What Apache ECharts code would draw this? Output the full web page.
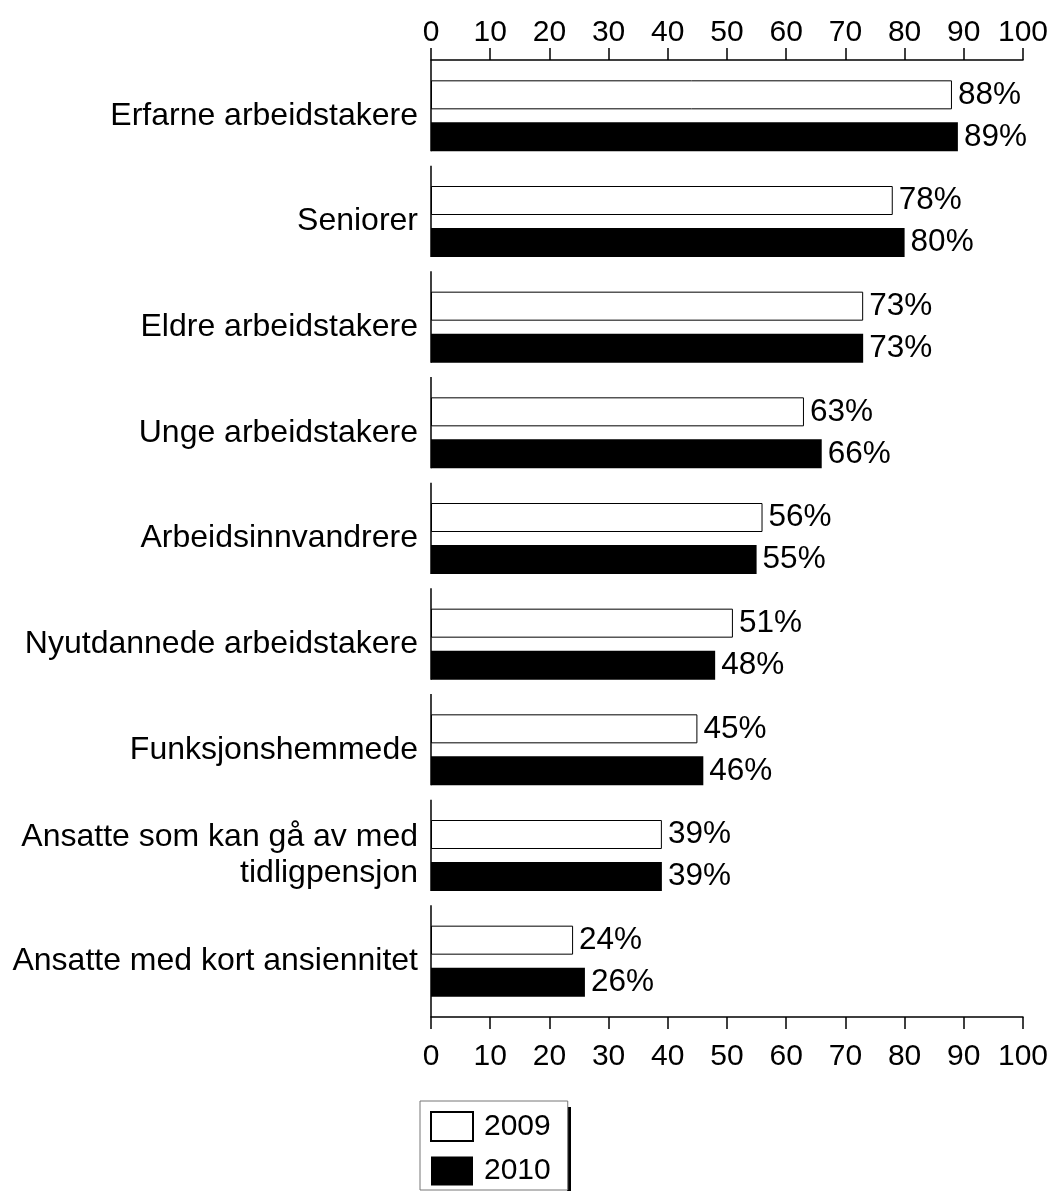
<!DOCTYPE html>
<html>
<head>
<meta charset="utf-8">
<script src="https://cdn.jsdelivr.net/npm/echarts@6/dist/echarts.min.js"></script>
<style>
  html, body { margin: 0; padding: 0; background: #fff; }
  #chart { width: 1054px; height: 1191px; }
</style>
</head>
<body>
<div id="chart"></div>
<script>
// Employee groups, top to bottom
const categories = [
  'Erfarne arbeidstakere',
  'Seniorer',
  'Eldre arbeidstakere',
  'Unge arbeidstakere',
  'Arbeidsinnvandrere',
  'Nyutdannede arbeidstakere',
  'Funksjonshemmede',
  'Ansatte som kan gå av med\ntidligpensjon',
  'Ansatte med kort ansiennitet'
];
// Share (%) per group
const values2009 = [88, 78, 73, 63, 56, 51, 45, 39, 24];
const values2010 = [89, 80, 73, 66, 55, 48, 46, 39, 26];
const seriesNames = ['2009', '2010'];
const axisMin = 0, axisMax = 100, axisStep = 10;

const FONT = 'Liberation Sans, Arial, Helvetica, sans-serif';
const BAR_W = 29;
const BAR_GAP = 13;
const AXIS_OFFSET = 3;

const chart = echarts.init(document.getElementById('chart'));

const valueAxisBase = {
  type: 'value',
  min: axisMin, max: axisMax, interval: axisStep,
  offset: AXIS_OFFSET,
  splitLine: { show: false },
  axisLine: { show: true, lineStyle: { color: '#000', width: 1.5 } },
  axisTick: { show: true, length: 12, lineStyle: { color: '#000', width: 1.5 } }
};

// Vertical axis drawn per group: from above the group down to the lower bar
function renderAxisSegment(params, api) {
  const idx = api.value(1);
  const c = api.coord([0, idx]);
  const band = api.size([0, 1])[1];
  const y0 = c[1] - band / 2 - AXIS_OFFSET;
  const last = idx === categories.length - 1;
  const y1 = last ? c[1] + band / 2 + AXIS_OFFSET : c[1] + BAR_W + BAR_GAP / 2;
  return {
    type: 'line',
    shape: { x1: c[0], y1: y0, x2: c[0], y2: y1 },
    style: { stroke: '#000', lineWidth: 1.5 }
  };
}

const barLabel = {
  show: true,
  position: 'right',
  distance: 6,
  formatter: '{c}%',
  color: '#000',
  fontSize: 31.5,
  fontFamily: FONT
};

chart.setOption({
  animation: false,
  backgroundColor: '#fff',
  textStyle: { fontFamily: FONT },
  grid: { left: 431, width: 592, top: 63, height: 951 },
  legend: {
    data: seriesNames,
    orient: 'vertical',
    left: 420,
    top: 1101,
    padding: [10, 17, 4, 10],
    icon: 'rect',
    itemWidth: 42,
    itemHeight: 29,
    itemGap: 14,
    backgroundColor: '#fff',
    borderColor: '#777',
    borderWidth: 1,
    textStyle: { fontSize: 30, lineHeight: 29, color: '#000', fontFamily: FONT, padding: [0, 0, 0, 6] }
  },
  // drop shadow along the right edge of the legend box
  graphic: [{
    type: 'rect',
    left: 567,
    top: 1107,
    shape: { width: 4, height: 90 },
    style: { fill: '#000' },
    silent: true
  }],
  xAxis: [
    Object.assign({}, valueAxisBase, {
      position: 'top',
      axisLabel: { margin: 12, fontSize: 30, color: '#000', fontFamily: FONT }
    }),
    Object.assign({}, valueAxisBase, {
      position: 'bottom',
      axisLabel: { margin: 25, fontSize: 30, color: '#000', fontFamily: FONT }
    })
  ],
  yAxis: {
    type: 'category',
    inverse: true,
    data: categories,
    axisLine: { show: false },
    axisTick: { show: false },
    axisLabel: {
      margin: 13,
      fontSize: 32,
      lineHeight: 36,
      align: 'right',
      color: '#000',
      fontFamily: FONT
    }
  },
  series: [
    {
      name: seriesNames[0],
      type: 'bar',
      xAxisIndex: 0,
      data: values2009,
      barWidth: BAR_W,
      barGap: (BAR_GAP / BAR_W * 100).toFixed(1) + '%',
      itemStyle: { color: '#fff', borderColor: '#000', borderWidth: 1 },
      label: barLabel
    },
    {
      name: seriesNames[1],
      type: 'bar',
      xAxisIndex: 0,
      data: values2010,
      barWidth: BAR_W,
      barGap: (BAR_GAP / BAR_W * 100).toFixed(1) + '%',
      itemStyle: { color: '#000' },
      label: barLabel
    },
    {
      type: 'custom',
      xAxisIndex: 0,
      clip: false,
      silent: true,
      renderItem: renderAxisSegment,
      data: categories.map((_, i) => [0, i]),
      z: 5
    }
  ]
});
</script>
</body>
</html>
